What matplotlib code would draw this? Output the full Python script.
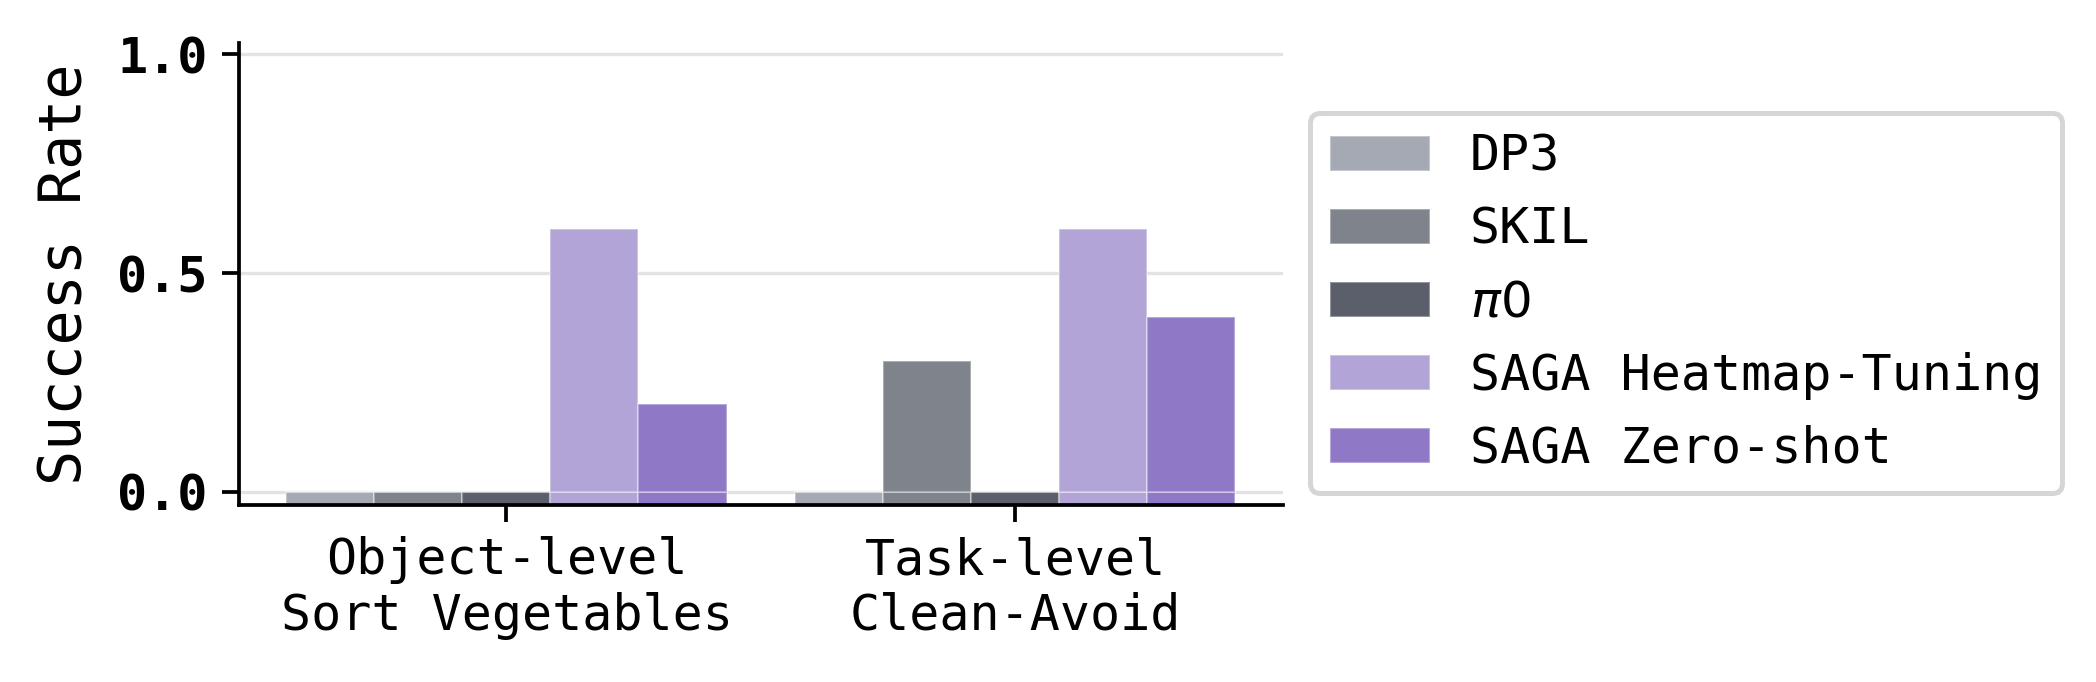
import matplotlib.pyplot as plt
import numpy as np

MONO = 'DejaVu Sans Mono'

groups = ['Object-level\nSort Vegetables', 'Task-level\nClean-Avoid']
methods = ['DP3', 'SKIL', r'$\pi0$', 'SAGA Heatmap-Tuning', 'SAGA Zero-shot']
colors = ['#a4a9b3', '#7e838c', '#5b5f6b', '#b2a4d6', '#8f79c6']
dp3 = [0.0, 0.0]
skil = [0.0, 0.3]
pi0 = [0.0, 0.0]
saga_ht = [0.6, 0.6]
saga_zs = [0.2, 0.4]
series = [dp3, skil, pi0, saga_ht, saga_zs]

YMIN, YMAX = -0.03, 1.025
W = 0.173
EDGE = (1, 1, 1, 0.35)

fig = plt.figure(figsize=(2096 / 300, 682 / 300), dpi=300, facecolor='white')
ax = fig.add_axes([0.114, 0.2595, 0.498, 0.677])

x = np.arange(len(groups))
for k, (vals, c, name) in enumerate(zip(series, colors, methods)):
    xs = x + (k - 2) * W
    # small stub below zero so zero-valued methods are still visible
    ax.bar(xs, [-YMIN] * len(xs), bottom=YMIN, width=W, color=c,
           edgecolor=EDGE, linewidth=0.5, zorder=2)
    ax.bar(xs, vals, width=W, color=c, edgecolor=EDGE, linewidth=0.5,
           zorder=2, label=name)

ax.set_ylim(YMIN, YMAX)
ax.set_yticks([0.0, 0.5, 1.0])
ax.set_yticklabels(['0.0', '0.5', '1.0'], fontfamily=MONO, fontsize=12,
                   fontweight='bold')
ax.set_xticks(x)
ax.set_xticklabels(groups, fontfamily=MONO, fontsize=12)
ax.set_ylabel('Success Rate', fontfamily=MONO, fontsize=14, labelpad=6)
ax.yaxis.grid(True, color='#e3e3e3', lw=0.8, zorder=0)
ax.set_axisbelow(True)
for sp in ['top', 'right']:
    ax.spines[sp].set_visible(False)
for sp in ['left', 'bottom']:
    ax.spines[sp].set_linewidth(0.9)
ax.tick_params(axis='both', width=0.9, length=4)

leg = fig.legend(*ax.get_legend_handles_labels(), loc='upper left',
                 bbox_to_anchor=(0.613, 0.871),
                 prop={'family': MONO, 'size': 12},
                 frameon=True, edgecolor='#cccccc', fancybox=True)
leg.get_frame().set_linewidth(1.2)

plt.savefig('out.png', dpi=300, facecolor='white')
plt.close()
